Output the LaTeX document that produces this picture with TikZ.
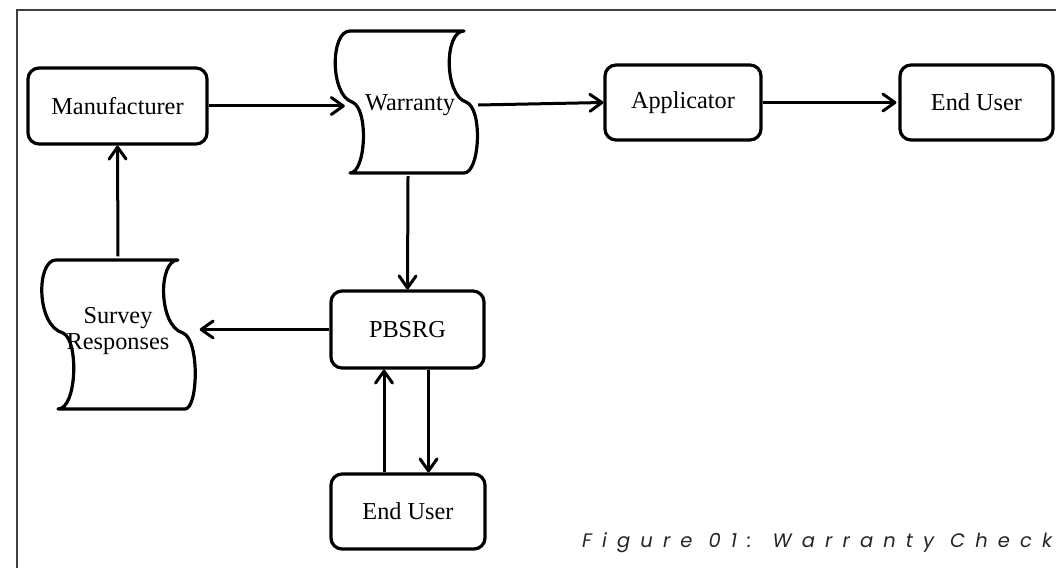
\documentclass[tikz,border=0pt]{standalone}
\usepackage{fontspec}
\setmainfont{Liberation Serif}
\newfontfamily\capfont[LetterSpace=52]{Poppins}
\usetikzlibrary{arrows.meta}
\begin{document}
\begin{tikzpicture}[x=1pt,y=-1pt,
  txt/.style={font=\fontsize{24.3}{26}\selectfont, text=black},
  box/.style={txt, draw, line width=3.2pt, rounded corners=11pt, inner sep=0pt, minimum height=75pt},
  tapenode/.style={txt, inner sep=0pt, align=center},
  tapeline/.style={draw, line width=3.2pt, line join=round},
  arr/.style={line width=3pt, -{Straight Barb[length=12pt,width=17pt,round]}}
]
\useasboundingbox (0,0) rectangle (1056,567);
\fill[white] (0,0) rectangle (1056,567);
% frame
\draw[line width=1.3pt, black!75] (17,10) rectangle (1090,600);

% boxes
\node[box, minimum width=179pt, minimum height=76pt] (man) at (117.5,106) {Manufacturer};
\node[box, minimum width=156pt] (app) at (683,102.5) {\raisebox{-2pt}{Applicator}};
\node[box, minimum width=153pt] (eu1) at (976.5,102.5) {End User};
\node[box, minimum width=153pt, minimum height=77pt] (pbs) at (407.5,329.5) {PBSRG};
\node[box, minimum width=154pt] (eu2) at (408,511.5) {End User};

% tape shapes
\path[tapeline] (350,31) -- (464,31)
  .. controls (444,31) and (444,95) .. (466,102)
  .. controls (483,108) and (480,173) .. (464,173)
  -- (350,173)
  .. controls (366,173) and (369,108) .. (352,102)
  .. controls (330,95) and (330,31) .. (350,31) -- cycle;
\node[tapenode, minimum width=140pt, minimum height=142pt] (war) at (408,105) {\hspace*{4pt}\raisebox{-3pt}{Warranty}};

\path[tapeline] (56,260) -- (178,260)
  .. controls (158,260) and (158,326) .. (183,333)
  .. controls (200,340) and (198,409) .. (185,409)
  -- (58,409)
  .. controls (77,409) and (79,340) .. (63,333)
  .. controls (36,326) and (36,260) .. (56,260) -- cycle;
\node[tapenode, minimum width=153pt, minimum height=149pt] (sur) at (118,331) {Survey\\Responses};

% connectors
\draw[arr, shorten >=-7pt] (man.east) -- (man.east -| war.west);
\draw[arr] (war.east) -- (app.west);
\draw[arr, shorten >=2pt] (app.east) -- (eu1.west);
\draw[arr] (war.south) -- (pbs.north);
\draw[arr, shorten >=5pt] (pbs.west) -- (pbs.west -| sur.east);
\draw[arr] (sur.north) -- (man.south);
\draw[arr] ([xshift=-24pt]eu2.north) -- ([xshift=-24pt]eu2.north |- pbs.south);
\draw[arr] ([xshift=21pt]pbs.south) -- ([xshift=21pt]pbs.south |- eu2.north);

% caption
\node[anchor=base west, inner sep=0pt, text=black!85, font=\capfont\itshape\fontsize{19.5}{22}\selectfont] (cap) at (582,547) {Figure 01: Warranty Check};
\end{tikzpicture}
\end{document}
